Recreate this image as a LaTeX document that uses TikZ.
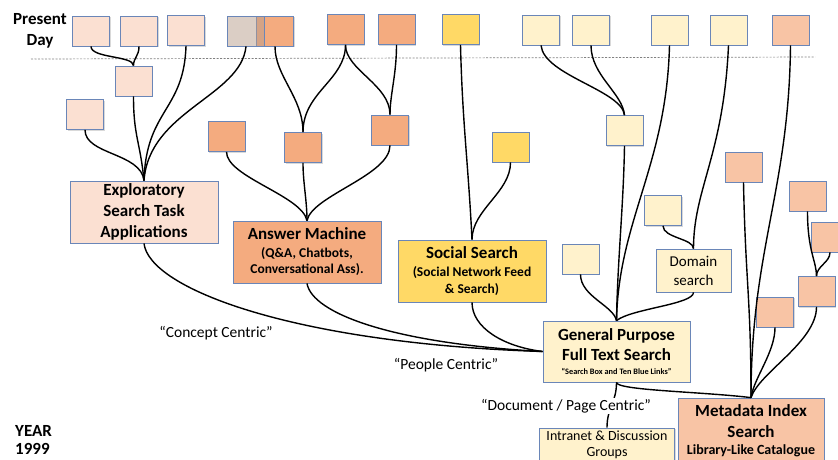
\documentclass[tikz,border=0pt]{standalone}
\usepackage{fontspec}
\setmainfont{Carlito}
\usetikzlibrary{shadows}

\definecolor{peach}{HTML}{FBE0D2}
\definecolor{tangerine}{HTML}{F4AB7F}
\definecolor{mustard}{HTML}{FFD966}
\definecolor{cream}{HTML}{FFF2CC}
\definecolor{salmon}{HTML}{F8C4A5}
\definecolor{taupe}{HTML}{B79D8B}
\definecolor{boxline}{HTML}{6A86B8}

\begin{document}
\begin{tikzpicture}[x=1pt,y=-1pt,
    leaf/.style={draw=boxline, line width=0.8pt, minimum width=37pt, minimum height=30pt, inner sep=0pt,
        drop shadow={shadow xshift=1.2pt, shadow yshift=-1.2pt, opacity=0.3}},
    stage/.style={draw=boxline, line width=0.8pt, align=center, inner sep=1pt,
        drop shadow={shadow xshift=1.2pt, shadow yshift=-1.2pt, opacity=0.3}},
    branch/.style={line width=1.4pt, black},
    era/.style={font=\fontsize{15.5}{18}\selectfont, inner sep=1pt}]
    \useasboundingbox (0,0) rectangle (838,459);

    % time axis
    \node[font=\bfseries\fontsize{17}{21.5}\selectfont, align=center] (now) at (40,31) {Present\\Day};
    \node[font=\bfseries\fontsize{17}{18}\selectfont, align=left, anchor=north west, inner sep=0pt] (year) at (15,425) {YEAR\\1999};
    \coordinate (nowL) at (31,59);
    \coordinate (nowR) at (815,57);
    \draw[gray, line width=0.7pt, dash pattern=on 2pt off 1.5pt] (nowL) -- (nowR);

    % present day leaves
    \node[leaf, fill=peach] (a1) at (91,31) {};
    \node[leaf, fill=peach] (a2) at (139,31) {};
    \node[leaf, fill=peach] (a3) at (186,30.5) {};
    \node[leaf, fill=tangerine] (a5) at (275,31) {};
    \node[draw=boxline, line width=0.8pt, minimum width=37pt, minimum height=30pt, fill=taupe, fill opacity=0.5] (a4) at (246,31) {};
    \node[leaf, fill=tangerine] (a6) at (345.5,29.5) {};
    \node[leaf, fill=tangerine] (a7) at (396.5,29.5) {};
    \node[leaf, fill=mustard] (y1) at (460.5,29.5) {};
    \node[leaf, fill=cream] (p1) at (541,30) {};
    \node[leaf, fill=cream] (p2) at (591,30) {};
    \node[leaf, fill=cream] (p3) at (669.5,30) {};
    \node[leaf, fill=cream] (p4) at (728.5,30) {};
    \node[leaf, fill=salmon] (s0) at (790.5,30) {};

    % intermediate leaves
    \node[leaf, fill=peach] (b1) at (133.5,81) {};
    \node[leaf, fill=peach] (b2) at (85,114.5) {};
    \node[leaf, fill=tangerine] (c1) at (226.5,136.5) {};
    \node[leaf, fill=tangerine] (c2) at (303,147.5) {};
    \node[leaf, fill=tangerine] (c3) at (390,130) {};
    \node[leaf, fill=mustard] (y2) at (510.5,147) {};
    \node[leaf, fill=cream] (p5) at (624.5,130.5) {};
    \node[leaf, fill=cream] (p6) at (580.5,259) {};
    \node[leaf, fill=cream] (p7) at (663,210.5) {};
    \node[leaf, fill=salmon] (s1) at (743.5,167) {};
    \node[leaf, fill=salmon] (s2) at (807.5,196) {};
    \node[leaf, fill=salmon] (s3) at (830,237) {};
    \node[leaf, fill=salmon] (s4) at (816.5,291.5) {};
    \node[leaf, fill=salmon] (s5) at (775,312) {};

    % main stages
    \node[stage, fill=peach, minimum width=148pt, minimum height=62pt,
        font=\bfseries\fontsize{17}{21}\selectfont] (expl) at (144,212) {Exploratory\\Search Task\\Applications};
    \node[stage, fill=tangerine, minimum width=148pt, minimum height=62pt,
        font=\bfseries\fontsize{13.5}{16}\selectfont] (answer) at (307,252)
        {{\fontsize{17}{19}\selectfont Answer Machine}\\[2pt](Q\&A, Chatbots,\\Conversational Ass).};
    \node[stage, fill=mustard, minimum width=148pt, minimum height=62pt,
        font=\bfseries\fontsize{13.5}{16.5}\selectfont] (social) at (472,271)
        {{\fontsize{17}{19}\selectfont Social Search}\\[2pt](Social Network Feed\\\& Search)};
    \node[stage, fill=cream, minimum width=147pt, minimum height=61pt,
        font=\bfseries\fontsize{17}{20}\selectfont] (gp) at (616.5,351.5)
        {General Purpose\\Full Text Search\\[-6pt]{\fontsize{8.3}{10}\selectfont “Search Box and Ten Blue Links”}};
    \node[stage, fill=cream, minimum width=75pt, minimum height=43pt,
        font=\fontsize{15}{19}\selectfont] (domain) at (693.5,270.5) {Domain\\search};
    \node[stage, fill=salmon, minimum width=146pt, minimum height=66pt,
        font=\bfseries\fontsize{17}{21}\selectfont] (meta) at (751,431)
        {Metadata Index\\Search\\[-4pt]{\fontsize{14}{16}\selectfont Library-Like Catalogue}};
    \node[stage, fill=cream, minimum width=135pt, minimum height=34pt,
        font=\fontsize{14}{16.5}\selectfont] (intranet) at (607,445) {Intranet \& Discussion\\Groups};

    % exploratory branches
    \draw[branch] (a1.south) .. controls +(0,12) and +(0,-10) .. (b1.north);
    \draw[branch] (a2.south) .. controls +(0,10) and +(0,-8) .. (b1.north);
    \draw[branch] (b2.south) .. controls +(0,25) and +(-3,-28) .. (expl.north);
    \draw[branch] (b1.south) .. controls +(0,40) and +(-4,-40) .. (expl.north);
    \draw[branch] (a3.south) .. controls +(-2,65) and +(2,-71) .. (expl.north);
    \draw[branch] (a4.south) .. controls +(-5,50) and +(5,-70) .. (expl.north);

    % answer machine branches
    \draw[branch] (a5.south) .. controls +(0,30) and +(0,-35) .. (c2.north);
    \draw[branch] (a6.south) .. controls +(0,35) and +(0,-40) .. (c2.north);
    \draw[branch] (a6.south) .. controls +(0,25) and +(0,-30) .. (c3.north);
    \draw[branch] (a7.south) .. controls +(0,30) and +(0,-20) .. (c3.north);
    \draw[branch] (c1.south) .. controls +(0,25) and +(-5,-25) .. (answer.north);
    \draw[branch] (c2.south) .. controls +(0,20) and +(0,-20) .. (answer.north);
    \draw[branch] (c3.south) .. controls +(0,30) and +(5,-25) .. (answer.north);

    % social branches
    \draw[branch] (y1.south) .. controls +(2,80) and +(-4,-80) .. (social.north);
    \draw[branch] (y2.south) .. controls +(0,30) and +(0,-30) .. (social.north);

    % general purpose branches
    \draw[branch] (p1.south) .. controls +(3,30) and +(-3,-25) .. (p5.north);
    \draw[branch] (p2.south) .. controls +(0,30) and +(-2,-22) .. (p5.north);
    \draw[branch] (p7.south) .. controls +(0,12) and +(0,-10) .. (domain.north);
    \draw[branch] (p4.south) .. controls +(-5,110) and +(0,-60) .. (domain.north);
    \draw[branch] (p6.south) .. controls +(0,22) and +(-3,-15) .. (gp.north);
    \draw[branch] (p5.south) .. controls +(-1,60) and +(1,-60) .. (gp.north);
    \draw[branch] (p3.south) .. controls +(-3,120) and +(2,-100) .. (gp.north);
    \draw[branch] (domain.south) .. controls +(0,12) and +(15,-12) .. (gp.north);

    % metadata branches
    \draw[branch] (s2.south) .. controls +(0,40) and +(0,-15) .. (s4.north);
    \draw[branch] (s3.south) .. controls +(0,10) and +(0,-10) .. (s4.north);
    \draw[branch] (s1.south) .. controls +(2,100) and +(0,-100) .. (meta.north);
    \draw[branch] (s0.south) .. controls +(-1.5,145) and +(0,-148) .. (meta.north);
    \draw[branch] (s5.south) .. controls +(0,25) and +(3,-20) .. (meta.north);
    \draw[branch] (s4.south) .. controls +(0,35) and +(8,-25) .. (meta.north);

    % roots of 1999
    \draw[branch] (expl.south) .. controls +(5,45) and +(-250,-8) .. (gp.west);
    \draw[branch] (answer.south) .. controls +(5,30) and +(-150,-8) .. (gp.west);
    \draw[branch] (social.south) .. controls +(0,25) and +(-40,-5) .. (gp.west);
    \draw[branch] (gp.south) .. controls +(0,8) and +(-50,-6) .. (meta.north);
    \draw[branch] (gp.south) .. controls +(0,20) and +(0,-20) .. (intranet.north);

    % labels
    \node[era] (concept) at (216,333) {“Concept Centric”};
    \node[era] (people) at (446,365) {“People Centric”};
    \node[era, fill=white] (docs) at (566,406) {“Document / Page Centric”};

\end{tikzpicture}
\end{document}
